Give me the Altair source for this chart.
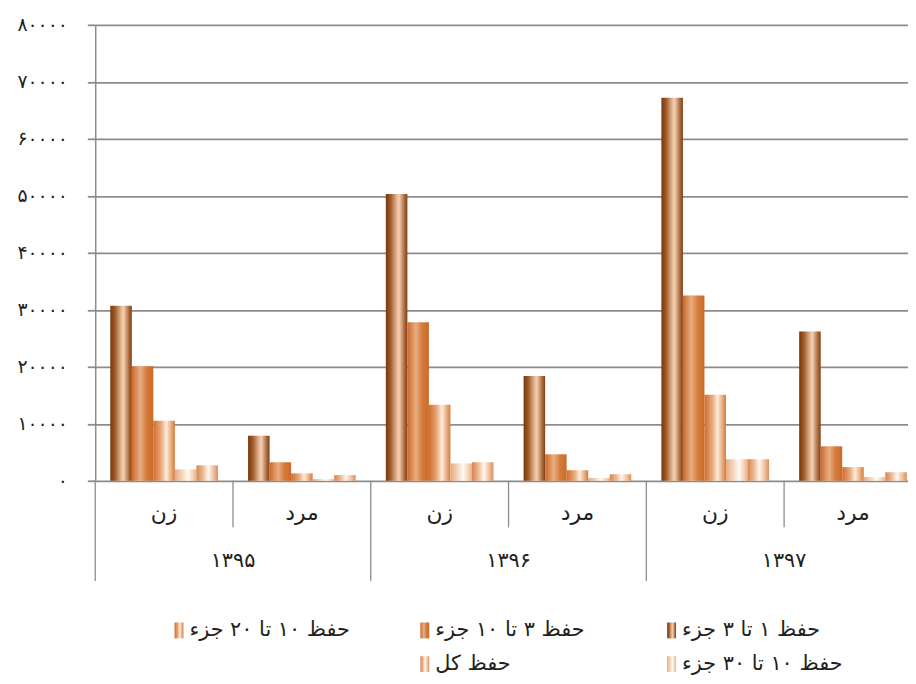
import json
import altair as alt
import pandas as pd

# ---------------- data ----------------
years = ["۱۳۹۵", "۱۳۹۶", "۱۳۹۷"]
genders = ["زن", "مرد"]
series = ["حفظ ۱ تا ۳ جزء", "حفظ ۳ تا ۱۰ جزء", "حفظ ۱۰ تا ۲۰ جزء", "حفظ ۱۰ تا ۳۰ جزء", "حفظ کل"]

# values in order: 1395 زن, 1395 مرد, 1396 زن, 1396 مرد, 1397 زن, 1397 مرد
v_1_3 = [30700, 7900, 50300, 18400, 67200, 26200]
v_3_10 = [20100, 3250, 27800, 4650, 32500, 6050]
v_10_20 = [10550, 1300, 13350, 1850, 15100, 2400]
v_10_30 = [2000, 300, 3050, 500, 3780, 650]
v_all = [2700, 1000, 3250, 1150, 3780, 1500]
values = [v_1_3, v_3_10, v_10_20, v_10_30, v_all]

y_ticks = [0, 10000, 20000, 30000, 40000, 50000, 60000, 70000, 80000]
y_labels = ["۰", "۱۰۰۰۰", "۲۰۰۰۰", "۳۰۰۰۰", "۴۰۰۰۰", "۵۰۰۰۰", "۶۰۰۰۰", "۷۰۰۰۰", "۸۰۰۰۰"]

# ---------------- table ----------------
cats = [f"{y}|{g}" for y in years for g in genders]
rows = []
for si, s in enumerate(series):
    for ci, c in enumerate(cats):
        y, g = c.split("|")
        rows.append({"year": y, "gender": g, "cat": c, "series": s, "value": values[si][ci]})
df = pd.DataFrame(rows)

# ---------------- styles ----------------
FONT = "DejaVu Sans"
TXT = "#231f20"
GRID = "#8c8c8c"
W, H = 834, 460

gradients = [
    [("#783709", 0), ("#a05b2a", 0.22), ("#e8bd99", 0.52), ("#f1cfb2", 0.62), ("#b06f42", 0.85), ("#7f3f14", 1)],
    [("#cc6a2b", 0), ("#e29d6c", 0.3), ("#e8ad82", 0.4), ("#d47a3a", 0.7), ("#cc6a2a", 1)],
    [("#cf6e2e", 0), ("#e8a676", 0.35), ("#fcebdc", 0.6), ("#ecb58c", 0.8), ("#d47a3c", 1)],
    [("#e6ab80", 0), ("#f6d8c0", 0.35), ("#fffaf4", 0.6), ("#f4d0b4", 0.85), ("#e9b288", 1)],
    [("#d7854e", 0), ("#ecb994", 0.3), ("#fff6ee", 0.55), ("#eec09e", 0.8), ("#dc8e5c", 1)],
]


def grad(stops):
    return alt.Gradient(
        gradient="linear",
        stops=[alt.GradientStop(color=c, offset=o) for c, o in stops],
        x1=0, x2=1, y1=0, y2=0,
    )


x_scale = alt.Scale(domain=cats, paddingInner=0, paddingOuter=0)
label_expr = json.dumps(y_labels, ensure_ascii=False) + "[round(datum.value/10000)]"
y_axis = alt.Axis(
    values=y_ticks, labelExpr=label_expr, title=None, grid=True,
    gridColor=GRID, gridWidth=1.8, domainColor=GRID, domainWidth=1.5,
    tickColor=GRID, tickSize=8, tickWidth=1.8, labelFont=FONT, labelFontSize=19,
    labelColor=TXT, labelPadding=20,
)
y_enc = alt.Y("value:Q", scale=alt.Scale(domain=[0, 80000], nice=False), axis=y_axis)

layers = []
for si, s in enumerate(series):
    layers.append(
        alt.Chart(df)
        .transform_filter(alt.datum.series == s)
        .mark_bar(fill=grad(gradients[si]), strokeWidth=0)
        .encode(
            x=alt.X("cat:N", scale=x_scale, axis=None),
            xOffset=alt.XOffset("series:N", scale=alt.Scale(domain=series, paddingInner=0, paddingOuter=0.7)),
            y=y_enc,
        )
    )

# category separators
short_df = pd.DataFrame({"cat": [f"{y}|{genders[1]}" for y in years]})
long_df = pd.DataFrame({"cat": [f"{y}|{genders[0]}" for y in years]})
layers.append(
    alt.Chart(short_df).mark_rule(color=GRID, strokeWidth=1.3).encode(
        x=alt.X("cat:N", scale=x_scale, axis=None, bandPosition=0),
        y=alt.value(H), y2=alt.value(H + 47),
    )
)
layers.append(
    alt.Chart(long_df).mark_rule(color=GRID, strokeWidth=1.3).encode(
        x=alt.X("cat:N", scale=x_scale, axis=None, bandPosition=0),
        y=alt.value(H), y2=alt.value(H + 101),
    )
)

# gender labels
gen_df = pd.DataFrame({"cat": cats, "gender": [c.split("|")[1] for c in cats]})
layers.append(
    alt.Chart(gen_df).mark_text(font=FONT, fontSize=22, color=TXT, baseline="middle").encode(
        x=alt.X("cat:N", scale=x_scale, axis=None),
        y=alt.value(H + 33), text="gender:N",
    )
)
# year labels
yr_df = pd.DataFrame({"cat": [f"{y}|{genders[1]}" for y in years], "year": years})
layers.append(
    alt.Chart(yr_df).mark_text(font=FONT, fontSize=21, color=TXT, baseline="middle").encode(
        x=alt.X("cat:N", scale=x_scale, axis=None, bandPosition=0),
        y=alt.value(H + 81), text="year:N",
    )
)

# legend (manual, gradient swatches)
leg_pos = [(577, 611), (328, 611), (80, 611), (577, 645), (328, 645)]
for si, s in enumerate(series):
    lx, ly = leg_pos[si]
    ldf = pd.DataFrame({"series": [s]})
    layers.append(
        alt.Chart(ldf).mark_rect(fill=grad(gradients[si])).encode(
            x=alt.value(lx), x2=alt.value(lx + 9), y=alt.value(ly - 8), y2=alt.value(ly + 8)
        )
    )
    layers.append(
        alt.Chart(ldf).mark_text(font=FONT, fontSize=21, color=TXT, align="left", baseline="middle").encode(
            x=alt.value(lx + 15), y=alt.value(ly), text="series:N"
        )
    )

chart = (
    alt.layer(*layers)
    .properties(
        width=W, height=H,
        padding={"left": 88, "top": 14, "right": -14, "bottom": 196},
        autosize=alt.AutoSizeParams(type="none"),
        background="white",
    )
    .configure_view(stroke=None)
)

chart.save("out.html", embed_options={"renderer": "svg", "actions": False})
